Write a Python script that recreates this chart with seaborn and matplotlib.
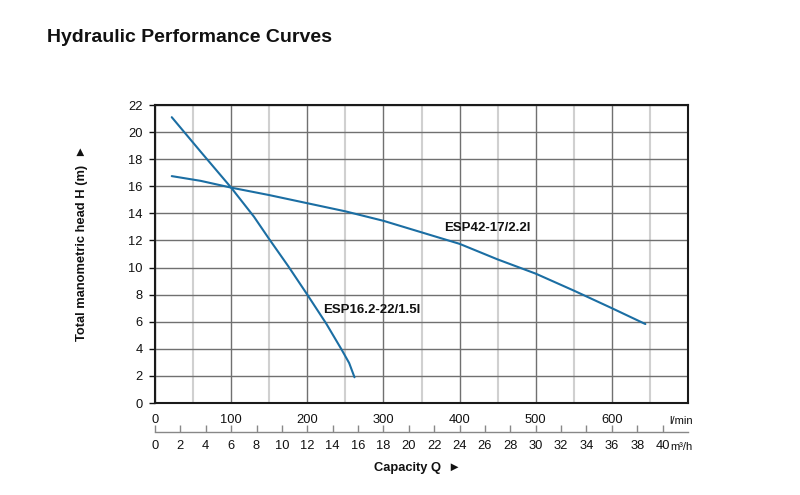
import matplotlib
matplotlib.use("Agg")
import matplotlib.pyplot as plt
import seaborn as sns
import pandas as pd
import numpy as np

# Data (Q in l/min, H in m)
q_esp16 = [22, 60, 100, 130, 150, 175, 200, 225, 245, 255, 262]
h_esp16 = [21.1, 18.55, 15.9, 13.75, 12.1, 10.1, 8.0, 5.85, 3.95, 2.95, 1.9]
q_esp42 = [22, 60, 100, 150, 200, 250, 300, 350, 400, 450, 500, 550, 600, 644]
h_esp42 = [16.75, 16.4, 15.9, 15.35, 14.75, 14.15, 13.45, 12.6, 11.75, 10.6, 9.55, 8.3, 7.0, 5.83]
labels = ["ESP16.2-22/1.5l", "ESP42-17/2.2l"]

lmin_ticks = [0, 100, 200, 300, 400, 500, 600]
m3h_ticks = list(range(0, 41, 2))
y_ticks = list(range(0, 23, 2))

sns.set_theme(style="white")
plt.rcParams["font.family"] = ["Liberation Sans", "DejaVu Sans"]

df = pd.DataFrame({
    "Q": q_esp16 + q_esp42,
    "H": h_esp16 + h_esp42,
    "pump": [labels[0]] * len(q_esp16) + [labels[1]] * len(q_esp42),
})

fig = plt.figure(figsize=(8, 4.95), dpi=100)
ax = fig.add_axes([155/800, 1 - 403/495, (688 - 155)/800, (403 - 105)/495])

blue = "#1B6EA3"
sns.lineplot(data=df, x="Q", y="H", units="pump", estimator=None, sort=False,
             color=blue, linewidth=1.5, ax=ax, legend=False)

ax.set_xlim(0, 700)
ax.set_ylim(0, 22)

# grid
ax.set_xticks(lmin_ticks)
ax.set_xticklabels([str(t) for t in lmin_ticks])
ax.set_xticks(np.arange(50, 700, 100), minor=True)
ax.set_yticks(y_ticks)
ax.set_yticklabels([str(t) for t in y_ticks])
ax.grid(which="major", axis="both", color="#707070", linewidth=1.0)
ax.grid(which="minor", axis="x", color="#d0d0d0", linewidth=1.5)
ax.set_axisbelow(True)

ax.tick_params(axis="x", which="both", length=0, pad=8, labelsize=9.3, colors="#111111")
ax.tick_params(axis="y", which="major", length=4, width=1, direction="out",
               pad=5, labelsize=9.3, colors="#111111", left=True)
for s in ax.spines.values():
    s.set_color("#1a1a1a")
    s.set_linewidth(1.5)
ax.set_xlabel("")
ax.set_ylabel("")

# secondary m3/h axis
sec = ax.secondary_xaxis(-0.0973, functions=(lambda x: x * 0.06, lambda x: x / 0.06))
sec.set_xticks(m3h_ticks)
sec.set_xticklabels([str(t) for t in m3h_ticks])
sec.tick_params(axis="x", direction="in", length=5, width=1, color="#888888",
                labelcolor="#111111", labelsize=9.3, pad=6)
sec.spines["bottom"].set_color("#888888")
sec.spines["bottom"].set_linewidth(1.0)
sec.set_xlim(0, 42)

# curve labels
fig.text(372/800, 1 - 310/495, labels[0], fontsize=9.5, fontweight="bold",
         ha="center", va="center", color="#111111")
fig.text(487/800, 1 - 228/495, labels[1], fontsize=9.5, fontweight="bold",
         ha="center", va="center", color="#111111")

# unit labels
fig.text(681/800, 1 - 421/495, "l/min", fontsize=8, ha="center", va="center", color="#111111")
fig.text(670/800, 1 - 447/495, "m³/h", fontsize=8, ha="left", va="center", color="#111111")

# axis titles
fig.text(82/800, 1 - 243/495, "Total manometric head H (m)  \u25BA", rotation=90,
         fontsize=9.3, fontweight="bold", ha="center", va="center",
         family=["Liberation Sans", "DejaVu Sans"], color="#111111")
fig.text(417/800, 1 - 468/495, "Capacity Q  \u25BA", fontsize=9.3, fontweight="bold",
         ha="center", va="center", family=["Liberation Sans", "DejaVu Sans"], color="#111111")

fig.text(47/800, 1 - 38/495, "Hydraulic Performance Curves", fontsize=14,
         fontweight="bold", ha="left", va="center", color="#111111")

fig.savefig("out.png", dpi=100)
